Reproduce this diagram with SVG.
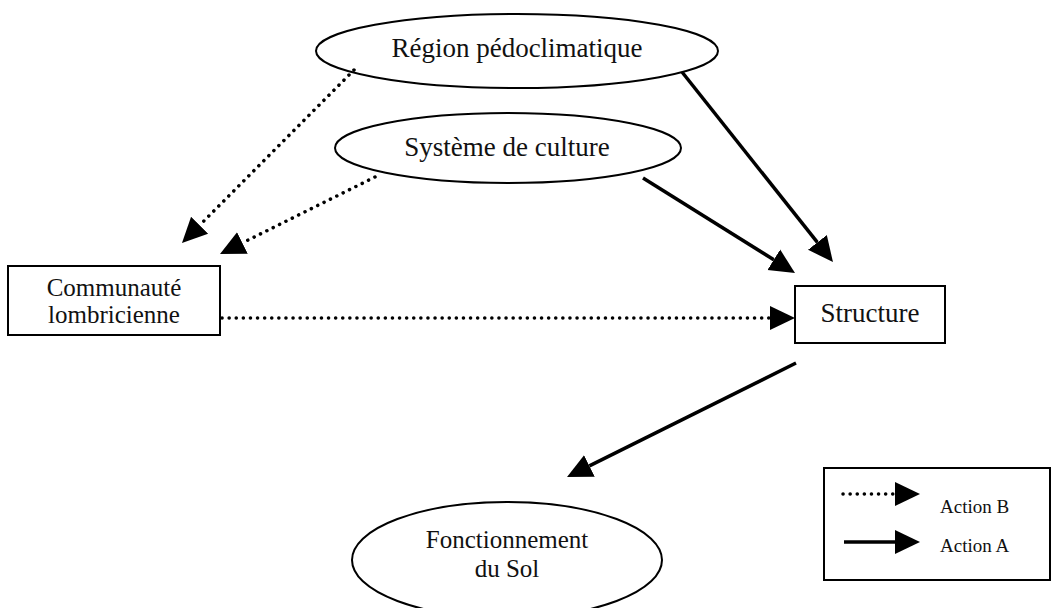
<svg xmlns="http://www.w3.org/2000/svg" width="1064" height="608" viewBox="0 0 1064 608">
<defs>
<style>
.shape{fill:#fff;stroke:#000;stroke-width:2}
.t{font-family:"Liberation Serif","Times New Roman",serif;font-size:27px;fill:#111;text-anchor:middle}
.t2{font-family:"Liberation Serif","Times New Roman",serif;font-size:25px;fill:#111;text-anchor:middle}
.lg{font-family:"Liberation Serif","Times New Roman",serif;font-size:19px;fill:#111}
.solid{stroke:#000;stroke-width:3.5;fill:none}
.dot{stroke:#000;stroke-width:3.5;fill:none;stroke-dasharray:0.1 7;stroke-linecap:round}
</style>
<marker id="ah" markerUnits="userSpaceOnUse" markerWidth="27" markerHeight="28" viewBox="0 -14 27 28" refX="0" refY="0" orient="auto">
<path d="M0,-12 L25,0 L0,12 z" fill="#000"/>
</marker>
</defs>
<rect width="1064" height="608" fill="#fff"/>
<g id="region">
<ellipse class="shape" cx="517" cy="51" rx="201" ry="37"/>
<text class="t" x="517" y="57">Région pédoclimatique</text>
</g>
<g id="systeme">
<ellipse class="shape" cx="508" cy="148" rx="173" ry="35"/>
<text class="t" x="507" y="156">Système de culture</text>
</g>
<g id="communaute">
<rect class="shape" x="8" y="266" width="212" height="69"/>
<text class="t2" x="114" y="296">Communauté</text>
<text class="t2" x="114" y="323">lombricienne</text>
</g>
<g id="structure">
<rect class="shape" x="795" y="286" width="150" height="57"/>
<text class="t" x="870" y="322">Structure</text>
</g>
<g id="fonctionnement">
<ellipse class="shape" cx="507" cy="560" rx="155" ry="58"/>
<text class="t2" x="507" y="548">Fonctionnement</text>
<text class="t2" x="507" y="577">du Sol</text>
</g>
<g id="connectors">
<line class="dot" x1="354" y1="70" x2="199.6" y2="225.3" marker-end="url(#ah)"/>
<line class="dot" x1="375" y1="177" x2="242.4" y2="242.9" marker-end="url(#ah)"/>
<line class="solid" x1="682" y1="72" x2="817.4" y2="242.4" marker-end="url(#ah)"/>
<line class="solid" x1="643" y1="178" x2="773.8" y2="259.7" marker-end="url(#ah)"/>
<line class="dot" x1="222" y1="318" x2="770" y2="318" marker-end="url(#ah)"/>
<line class="solid" x1="796" y1="363" x2="589.4" y2="465.9" marker-end="url(#ah)"/>
</g>
<g id="legend">
<rect class="shape" x="824" y="468" width="226" height="112"/>
<line class="dot" x1="843" y1="494" x2="895" y2="494" marker-end="url(#ah)"/>
<line class="solid" x1="844" y1="542" x2="895" y2="542" marker-end="url(#ah)"/>
<text class="lg" x="940" y="513">Action B</text>
<text class="lg" x="940" y="552">Action A</text>
</g>
</svg>
